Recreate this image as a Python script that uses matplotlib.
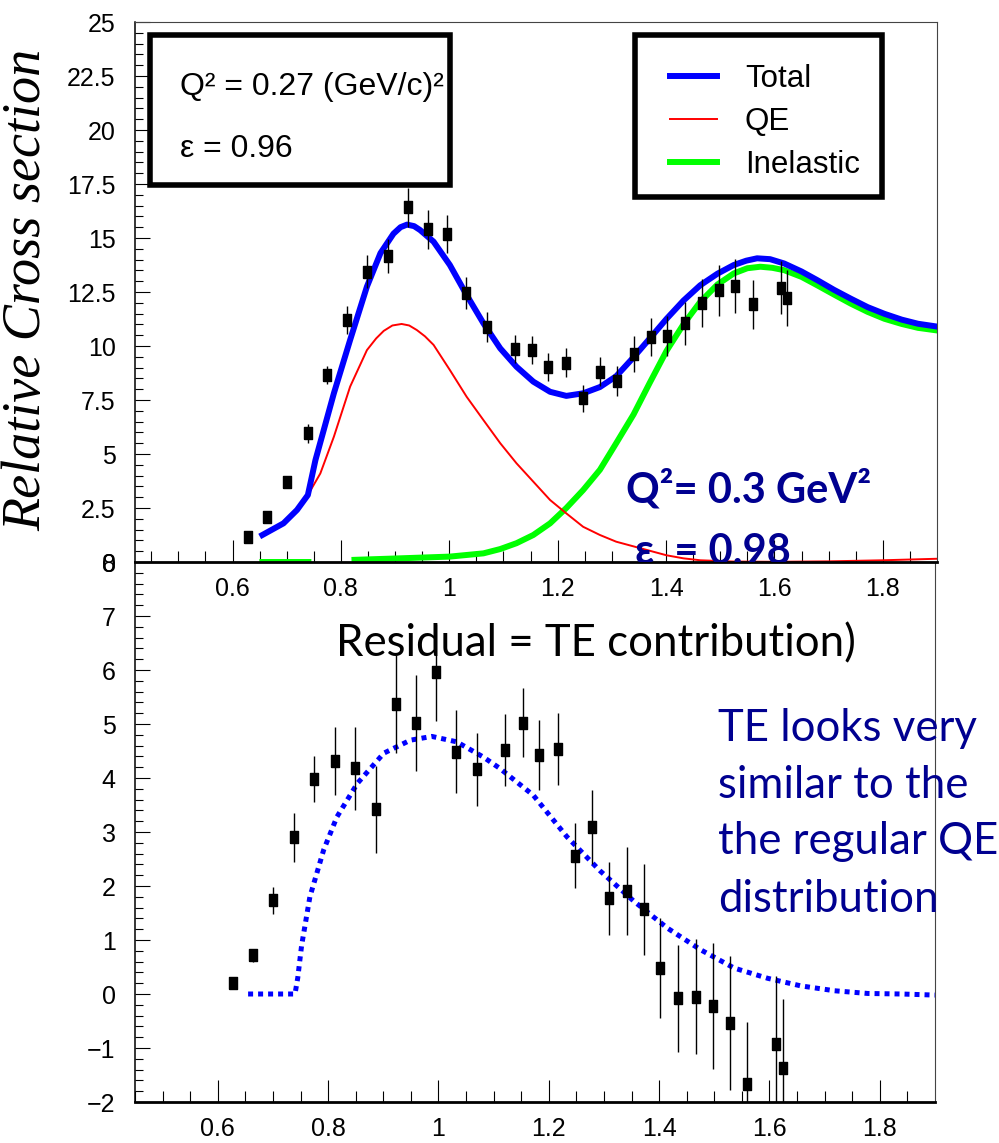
import numpy as np
import matplotlib
matplotlib.use("Agg")
import matplotlib.pyplot as plt
from matplotlib.patches import Rectangle
from matplotlib.lines import Line2D

# data points (shared x for both panels)
x_pts = [0.628, 0.664, 0.701, 0.739, 0.775, 0.812, 0.849, 0.886, 0.923, 0.960,
         0.996, 1.031, 1.069, 1.121, 1.153, 1.183, 1.216, 1.247, 1.279, 1.309,
         1.341, 1.372, 1.402, 1.435, 1.466, 1.498, 1.528, 1.560, 1.612, 1.624]

xs_top = [1.14, 2.07, 3.69, 5.96, 8.66, 11.2, 13.44, 14.17, 16.42, 15.40,
          15.19, 12.44, 10.89, 9.86, 9.81, 9.01, 9.23, 7.58, 8.81, 8.38,
          9.63, 10.41, 10.45, 11.06, 11.99, 12.58, 12.78, 11.93, 12.70, 12.22]
xs_err = [0.12, 0.15, 0.2, 0.45, 0.4, 0.65, 0.75, 0.77, 0.89, 0.89,
          0.89, 0.75, 0.69, 0.65, 0.65, 0.65, 0.67, 0.62, 0.68, 0.7,
          0.83, 0.88, 0.93, 1.0, 1.1, 1.18, 1.24, 1.14, 1.24, 1.3]

resid = [0.2, 0.72, 1.74, 2.90, 3.98, 4.31, 4.18, 3.42, 5.37, 5.02,
         5.96, 4.49, 4.16, 4.52, 5.02, 4.43, 4.54, 2.56, 3.09, 1.77,
         1.91, 1.57, 0.48, -0.08, -0.05, -0.22, -0.53, -1.66, -0.92, -1.37]
resid_err = [0.11, 0.12, 0.25, 0.45, 0.42, 0.63, 0.77, 0.8, 0.9, 0.89,
             0.9, 0.77, 0.68, 0.66, 0.64, 0.65, 0.67, 0.6, 0.69, 0.68,
             0.82, 0.84, 0.92, 0.99, 1.07, 1.16, 1.24, 1.15, 1.26, 1.28]

# model curves
tot_x = [0.655, 0.694, 0.719, 0.739, 0.753, 0.787, 0.817, 0.848, 0.873, 0.897,
         0.910, 0.922, 0.935, 0.946, 0.971, 1.001, 1.032, 1.063, 1.094, 1.124,
         1.155, 1.186, 1.216, 1.247, 1.278, 1.308, 1.339, 1.370, 1.401, 1.432,
         1.463, 1.495, 1.525, 1.548, 1.568, 1.592, 1.618, 1.650, 1.679, 1.710,
         1.741, 1.772, 1.803, 1.835, 1.865, 1.9]
tot_y = [1.25, 1.79, 2.41, 3.1, 4.72, 7.81, 10.28, 12.75, 14.3, 15.2,
         15.5, 15.62, 15.55, 15.37, 14.83, 13.75, 12.36, 11.05, 9.89, 9.04,
         8.35, 7.88, 7.69, 7.81, 8.1, 8.6, 9.45, 10.35, 11.26, 12.1,
         12.81, 13.35, 13.75, 13.95, 14.06, 14.02, 13.82, 13.45, 13.05, 12.6,
         12.19, 11.8, 11.49, 11.22, 11.03, 10.9]

qe_x = [0.739, 0.762, 0.787, 0.817, 0.848, 0.865, 0.879, 0.895, 0.912, 0.926,
        0.940, 0.955, 0.971, 1.001, 1.032, 1.063, 1.094, 1.124, 1.155, 1.186,
        1.216, 1.247, 1.278, 1.308, 1.339, 1.370, 1.401, 1.432, 1.463, 1.525,
        1.6, 1.7, 1.8, 1.9]
qe_y = [3.1, 4.1, 5.8, 8.12, 9.81, 10.35, 10.7, 10.95, 11.02, 10.95,
        10.74, 10.45, 10.05, 8.89, 7.65, 6.57, 5.5, 4.57, 3.72, 2.87,
        2.25, 1.63, 1.25, 0.94, 0.73, 0.52, 0.31, 0.17, 0.08, 0.02,
        0.01, 0.03, 0.08, 0.15]

inel_x = [0.655, 0.74, np.nan, 0.825, 0.909, 1.001, 1.063, 1.094, 1.124, 1.155,
          1.186, 1.216, 1.247, 1.278, 1.308, 1.340, 1.370, 1.401, 1.432, 1.463,
          1.495, 1.525, 1.550, 1.574, 1.596, 1.618, 1.650, 1.679, 1.710, 1.741,
          1.772, 1.803, 1.835, 1.865, 1.9]
inel_y = [0.0, 0.0, np.nan, 0.1, 0.17, 0.25, 0.4, 0.6, 0.87, 1.25,
          1.79, 2.5, 3.33, 4.27, 5.5, 6.83, 8.3, 9.78, 11.0, 12.04,
          12.85, 13.36, 13.6, 13.67, 13.62, 13.51, 13.2, 12.81, 12.38, 11.96,
          11.58, 11.26, 11.02, 10.84, 10.72]

te_x = [0.655, 0.74, 0.745, 0.752, 0.767, 0.792, 0.816, 0.853, 0.901, 0.949,
        0.988, 1.033, 1.081, 1.111, 1.172, 1.233, 1.293, 1.354, 1.415, 1.475,
        1.536, 1.597, 1.657, 1.718, 1.778, 1.839, 1.9]
te_y = [0.0, 0.0, 0.3, 0.9, 1.8, 2.67, 3.28, 3.90, 4.46, 4.70,
        4.77, 4.67, 4.39, 4.18, 3.68, 2.91, 2.28, 1.72, 1.22, 0.82,
        0.48, 0.29, 0.15, 0.06, 0.01, 0.0, -0.02]

xticks = [0.6, 0.8, 1.0, 1.2, 1.4, 1.6, 1.8]
xtick_labels = ["0.6", "0.8", "1", "1.2", "1.4", "1.6", "1.8"]
top_yticks = [0, 2.5, 5, 7.5, 10, 12.5, 15, 17.5, 20, 22.5, 25]
top_ylabels = ["0", "2.5", "5", "7.5", "10", "12.5", "15", "17.5", "20", "22.5", "25"]
bot_yticks = [-2, -1, 0, 1, 2, 3, 4, 5, 6, 7, 8]
bot_ylabels = ["\u22122", "\u22121", "0", "1", "2", "3", "4", "5", "6", "7", "8"]
legend_labels = ["Total", "QE", "Inelastic"]

SANS = ["Liberation Sans", "DejaVu Sans"]
CAL = ["Lato", "DejaVu Sans"]
NAVY = "#000090"
W, H = 999, 1143

# tall narrow box marker, like the ROOT squares
BOX = [(-0.33, -0.5), (0.33, -0.5), (0.33, 0.5), (-0.33, 0.5), (-0.33, -0.5)]


def fx(px):
    return px / W


def fy(py):
    return 1 - py / H


def style_axes(ax, xlim, ylim, yticks, ylabels, yminor):
    ax.set_facecolor("none")
    ax.set_xlim(*xlim)
    ax.set_ylim(*ylim)
    ax.set_xticks(xticks)
    ax.set_xticklabels(xtick_labels)
    ax.set_xticks(np.arange(0.45, 1.9, 0.05), minor=True)
    ax.set_yticks(yticks)
    ax.set_yticklabels(ylabels)
    ax.set_yticks(np.arange(ylim[0], ylim[1] + 0.01, yminor), minor=True)
    ax.tick_params(axis="x", which="major", direction="in", length=15.5, width=0.8,
                   pad=11, labelsize=18)
    ax.tick_params(axis="x", which="minor", direction="in", length=8, width=0.8)
    ax.tick_params(axis="y", which="major", direction="in", length=11, width=0.8,
                   pad=14, labelsize=18)
    ax.tick_params(axis="y", which="minor", direction="in", length=5.5, width=0.8)
    for lab in ax.get_xticklabels() + ax.get_yticklabels():
        lab.set_family(SANS)
    for s in ("top", "right"):
        ax.spines[s].set_color("#444444")
        ax.spines[s].set_linewidth(0.8)
    ax.spines["left"].set_color("black")
    ax.spines["left"].set_linewidth(1.1)
    ax.spines["bottom"].set_color("black")
    ax.spines["bottom"].set_linewidth(2.0)


def draw_points(ax, y, e):
    ax.errorbar(x_pts, y, yerr=e, fmt="none", ecolor="black", elinewidth=1.0,
                capsize=0, zorder=4)
    ax.plot(x_pts, y, ls="none", marker=BOX, ms=8.5, color="black", zorder=5)


fig = plt.figure(figsize=(W / 100, H / 100), dpi=100)

ax2 = fig.add_axes([fx(135), fy(1102), fx(800), 540 / H])
ax1 = fig.add_axes([fx(135), fy(562), fx(802), 540 / H])

# ---- top panel ----
style_axes(ax1, (0.42, 1.9), (0, 25), top_yticks, top_ylabels, 0.5)
ax1.plot(inel_x, inel_y, color="#00ff00", lw=4.3, zorder=2)
ax1.plot(qe_x, qe_y, color="#ff0000", lw=1.4, zorder=2)
ax1.plot(tot_x, tot_y, color="#0000ff", lw=4.3, zorder=3)
draw_points(ax1, xs_top, xs_err)

# legend: frame drawn separately so padding can match the ROOT box
fig.patches.append(Rectangle((fx(635), fy(197)), 247 / W, 162 / H, fill=False,
                             lw=4, edgecolor="black", transform=fig.transFigure))
handles = [Line2D([], [], color="#0000ff", lw=4.3),
           Line2D([], [], color="#ff0000", lw=1.4),
           Line2D([], [], color="#00ff00", lw=4.3)]
ax1.legend(handles, legend_labels, loc="upper left",
           bbox_to_anchor=(fx(670), fy(64)), bbox_transform=fig.transFigure,
           borderaxespad=0, borderpad=0, frameon=False,
           prop={"family": SANS, "size": 22.5},
           handlelength=1.5, handletextpad=0.9, labelspacing=0.42)

ax1.text(fx(626), fy(502), "Q\u00b2= 0.3 GeV\u00b2", transform=fig.transFigure,
         fontsize=30, fontweight="bold", color=NAVY, family=CAL, va="baseline")
ax1.text(fx(635), fy(564), "\u03b5  = 0.98", transform=fig.transFigure,
         fontsize=30, fontweight="bold", color=NAVY, family=CAL, va="baseline",
         clip_on=True)

# info box
fig.patches.append(Rectangle((fx(150), fy(185)), 300 / W, 150 / H, fill=False,
                             lw=4, edgecolor="black", transform=fig.transFigure))
fig.text(fx(180), fy(95), "Q\u00b2 = 0.27 (GeV/c)\u00b2", fontsize=23,
         family=SANS, va="baseline")
fig.text(fx(180), fy(157), "\u03b5 = 0.96", fontsize=23, family=SANS, va="baseline")

# ---- bottom panel ----
style_axes(ax2, (0.45, 1.9), (-2, 8), bot_yticks, bot_ylabels, 0.2)
ax2.plot(te_x, te_y, color="#0000ff", lw=3.6, ls=(0, (1, 1)),
         dash_capstyle="butt", zorder=2)
draw_points(ax2, resid, resid_err)

fig.text(fx(336), fy(656), "Residual = TE contribution)", fontsize=31.5,
         family=CAL, va="baseline")

te_lines = ["TE looks very", "similar to the", "the regular QE", "distribution"]
te_base = [741, 798, 854, 912]
for line, b in zip(te_lines, te_base):
    fig.text(fx(718), fy(b), line, fontsize=31.5, family=CAL, color=NAVY,
             va="baseline")

fig.text(fx(27), fy(290), "Relative Cross section", rotation=90, fontsize=39,
         family=["Liberation Serif", "DejaVu Serif"], style="italic",
         ha="center", va="center")

fig.savefig("out.png", dpi=100)
